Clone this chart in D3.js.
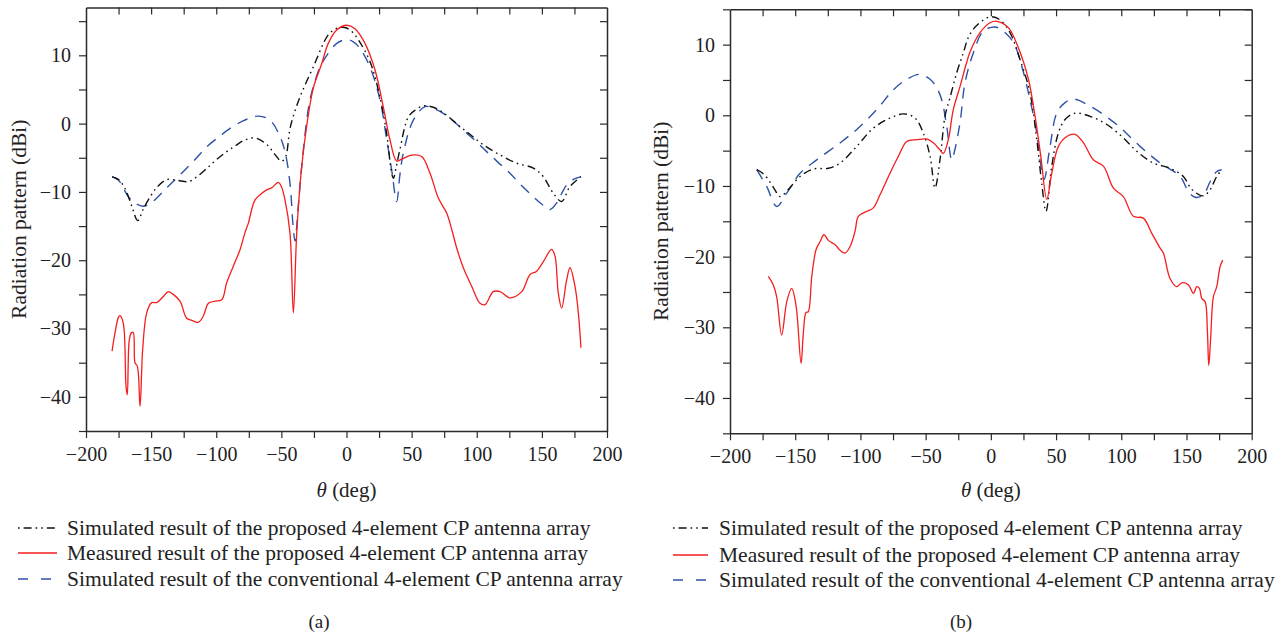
<!DOCTYPE html>
<html>
<head>
<meta charset="utf-8">
<script src="https://cdn.jsdelivr.net/npm/d3@7"></script>
<style>
  html, body { margin: 0; padding: 0; background: #fff; }
  svg { display: block; }
  text { font-family: "Liberation Serif", "DejaVu Serif", serif; fill: #222; }
</style>
</head>
<body>
<svg id="chart" width="1282" height="634"></svg>
<script>
// ---------------- DATA ----------------
const xTicks = [-200, -150, -100, -50, 0, 50, 100, 150, 200];
const yTicks = [-40, -30, -20, -10, 0, 10];
const legendLabels = [
  "Simulated result of the proposed 4-element CP antenna array",
  "Measured result of the proposed 4-element CP antenna array",
  "Simulated result of the conventional 4-element CP antenna array"
];
const panelLabels = ["(a)", "(b)"];
const xTitle = "(deg)";
const yTitle = "Radiation pattern (dBi)";

// Panel (a): [theta (deg), gain (dBi)]
const aSimProposed = [[-180,-7.8],[-175,-8.2],[-170,-9.5],[-165,-12],[-160.3,-14.2],[-156,-12.5],[-150,-10.5],[-145,-9.2],[-138,-8.2],[-130,-8.3],[-121.5,-8.5],[-115,-7.8],[-107,-6.5],[-100,-5.3],[-92,-4.1],[-85,-3.2],[-78,-2.4],[-70,-2.1],[-61,-3.1],[-55,-4.5],[-50,-5.5],[-47,-5.0],[-43,-0.4],[-35.7,3.9],[-25.5,8.3],[-14,13.0],[-8,13.9],[-3,14.1],[0,14.0],[5,13.3],[10,12],[18,9.1],[25.7,3.9],[30.8,-1.4],[34.7,-7.3],[36,-8.0],[38,-6.5],[41,-3.8],[47.5,1.0],[53,2.0],[59,2.6],[66.6,2.4],[75,1.5],[87,-0.4],[95,-1.6],[105,-3.1],[118,-4.6],[130.7,-5.8],[143.4,-6.5],[151,-7.75],[158.8,-10.2],[165.2,-11.4],[171.6,-9.2],[180,-7.8]];
const aMeasured = [[-180,-33.3],[-177.7,-30.6],[-175.2,-28.4],[-174,-28.1],[-171.4,-29.2],[-169.3,-38.4],[-168.3,-39.7],[-166.7,-31.6],[-165,-30.6],[-163.7,-30.6],[-162.4,-35.0],[-160.6,-35.5],[-158.5,-41.4],[-156.5,-33.1],[-153.4,-27.7],[-149.6,-26.2],[-145.7,-26.2],[-140.6,-25.3],[-136.8,-24.6],[-133,-25.0],[-127.8,-26.0],[-122.7,-28.5],[-118.8,-28.8],[-113.8,-29.1],[-110,-28.2],[-106,-26.3],[-101,-26.0],[-95.8,-25.8],[-92,-23.3],[-87,-20.9],[-81.8,-18.5],[-78,-16.0],[-75.4,-14.6],[-70.3,-11.2],[-65,-10.2],[-61.3,-9.7],[-57.4,-9.4],[-52.4,-8.6],[-50,-9.2],[-47.2,-11.2],[-43.4,-16.0],[-40.8,-27.7],[-38.2,-16],[-34.4,-6.3],[-30.6,-0.4],[-25.5,5.2],[-19,8.8],[-14,11.75],[-7.5,13.7],[0,14.4],[6.5,13.9],[14.2,11.75],[21.9,7.85],[28.2,2.5],[33.4,-2.4],[38.5,-5.45],[42.4,-5.2],[50,-4.6],[57.7,-4.8],[64.1,-7.25],[70.5,-10.9],[76.9,-13.1],[80.8,-15.5],[84.6,-18.2],[89.7,-21.1],[96.1,-23.8],[102.5,-26.3],[106.3,-26.5],[112.7,-24.6],[117.9,-24.6],[125.5,-25.5],[134.5,-24.6],[140.9,-22.1],[146,-21.6],[151.1,-20.2],[157.5,-18.4],[160.1,-19.4],[162.6,-24.8],[165.2,-27.0],[169,-22.9],[171.6,-21.1],[175.4,-23.8],[178,-27.7],[180,-32.8]];
const aSimConventional = [[-180,-7.75],[-175,-8.3],[-167.5,-10.7],[-161,-11.8],[-156,-12.1],[-150,-11.6],[-145.7,-10.9],[-137,-9.2],[-127.8,-7.5],[-117,-5.4],[-107.3,-3.4],[-97,-1.8],[-87,-0.4],[-77,0.6],[-67.7,1.1],[-58.7,0.5],[-51,-1.9],[-47,-4.3],[-43.4,-8.7],[-40.8,-15.5],[-39.5,-17.2],[-37,-12],[-34.4,-6.3],[-28,3.5],[-20.3,8.3],[-16.5,9.6],[-7.5,11.75],[0,12.3],[5,12],[10.4,11.0],[18,8.3],[25.7,3.5],[30.9,-2.4],[34.7,-6.8],[38.5,-11.4],[41,-7.5],[43.6,-4.3],[51.3,0.5],[60.3,2.5],[67,2.2],[74.3,1.5],[83,0.2],[92.3,-1.4],[100,-2.7],[107.6,-4.1],[116,-5.6],[125.5,-7.25],[134,-9],[143.4,-10.7],[150,-11.8],[156,-12.6],[161.4,-11.6],[165,-10.3],[169,-9.0],[175,-8.1],[180,-7.75]];

// Panel (b)
const bSimProposed = [[-179.5,-7.7],[-175,-8.2],[-170.6,-9.1],[-166,-10.4],[-161.7,-11.5],[-155.3,-10.5],[-146.3,-8.65],[-136.1,-7.6],[-124.6,-7.5],[-115.6,-6.75],[-102.8,-4.4],[-90,-1.8],[-77.3,-0.4],[-67,0.2],[-58.1,-0.4],[-51.8,-2.5],[-46.6,-5.8],[-42.8,-10.3],[-39,-6.3],[-35.1,-0.1],[-31.3,2.5],[-26.2,6.0],[-21.1,8.85],[-17.3,11.0],[-13.4,12.2],[-5.7,13.5],[0.6,13.95],[7,13.5],[14.7,11.7],[22.4,7.9],[30,3.2],[35.2,-3.4],[39,-9.6],[42.3,-13.6],[46.7,-7.2],[51.8,-2.5],[56.9,-0.6],[64.6,0.3],[76,-0.14],[88.9,-1.3],[101.6,-3.2],[111.9,-5.1],[124.6,-6.75],[137.4,-7.5],[147.6,-8.65],[154.1,-10.5],[163,-11.4],[168.1,-10.5],[173.2,-8.65],[177,-7.7]];
const bMeasured = [[-170.6,-22.8],[-166.8,-24.0],[-164.2,-25.7],[-160.4,-31.1],[-156.5,-26.4],[-152.7,-24.5],[-149.4,-26.9],[-145.5,-35.1],[-143.8,-30.9],[-141.7,-27.9],[-140,-27.8],[-137.3,-22.8],[-134,-19.0],[-131,-17.9],[-127.9,-16.9],[-124.6,-17.7],[-119.5,-18.3],[-115.6,-19.1],[-111.8,-19.5],[-108,-18.6],[-104.1,-16.4],[-101.6,-14.3],[-95.2,-13.6],[-90.1,-13.1],[-85,-11.25],[-77.3,-8.2],[-70.9,-5.8],[-64.5,-3.7],[-56.8,-3.45],[-49.2,-3.35],[-44.1,-3.9],[-39,-4.9],[-36.4,-5.4],[-32.6,-3.45],[-28.8,0.8],[-23.6,4.1],[-18.5,7.5],[-15.9,9.0],[-8.3,11.7],[-0.6,13.1],[4.5,13.3],[13.4,12.4],[21.1,9.55],[28.8,5.1],[33.9,-0.14],[38.3,-5.8],[42.9,-11.9],[46.7,-8.2],[51.8,-4.4],[58.2,-3.0],[64.6,-2.7],[71,-3.9],[78.6,-6.3],[86.3,-7.2],[94,-10.3],[101.6,-11.5],[109.3,-14.3],[116.9,-14.55],[123.4,-16.7],[129.8,-18.8],[132.3,-19.5],[137.4,-23.1],[142.5,-24.25],[146.4,-23.7],[151.5,-24.0],[155.3,-25.2],[157.9,-24.25],[159.9,-24.5],[161.7,-25.9],[164.3,-26.4],[166,-30.4],[167.1,-35.4],[168.6,-31.3],[170.6,-25.7],[173.2,-24.25],[175.8,-21.4],[177.8,-20.5]];
const bSimConventional = [[-179.5,-7.7],[-171.8,-10.1],[-164.2,-12.9],[-156.5,-11.0],[-146.3,-8.2],[-133.5,-6.3],[-115.6,-3.9],[-102.8,-2.0],[-87.5,0.8],[-74.8,3.6],[-64.5,5.1],[-54.3,5.8],[-46.6,5.1],[-41.5,3.9],[-37.7,2.2],[-33.8,-1.6],[-30,-6.3],[-27.5,-4.8],[-23.6,-1.0],[-19.8,4.6],[-13.4,8.85],[-5.8,11.9],[3.2,12.5],[9.6,11.9],[17.3,10.3],[23.7,6.95],[30,2.2],[35.2,-2.5],[37.7,-6.3],[40.8,-9.1],[45.4,-4.4],[50.5,0.3],[56.9,1.8],[63.3,2.3],[76,1.3],[96.5,-1.3],[114.4,-4.4],[129.8,-6.75],[145.1,-8.65],[151.5,-10.8],[156.6,-11.6],[163,-11.25],[168.1,-9.4],[173.2,-7.95],[177,-7.7]];

// ---------------- DRAW ----------------
const svg = d3.select("#chart");
const colors = { black: "#111111", red: "#f51e1e", blue: "#2f52a8" };
const styles = [
  { color: colors.black, dash: "8,4,1.6,4,1.6,4", width: 1.4 },
  { color: colors.red, dash: null, width: 1.3 },
  { color: colors.blue, dash: "11,8", width: 1.4 }
];

const panels = [
  { box: { l: 86, r: 607, t: 7.5, b: 431 }, yDom: [-45, 17],
    series: [aSimProposed, aMeasured, aSimConventional],
    yTitleX: 19, legend: { x0: 18, x1: 57, tx: 67, ys: [528, 553, 579] }, labelX: 319 },
  { box: { l: 730, r: 1251.7, t: 9.3, b: 433.3 }, yDom: [-45, 15],
    series: [bSimProposed, bMeasured, bSimConventional],
    yTitleX: 661, legend: { x0: 673, x1: 708, tx: 719, ys: [528, 555, 580] }, labelX: 961 }
];

const minorX = d3.range(-200, 201, 25);
const minorY = d3.range(-45, 16, 5);

panels.forEach((p, pi) => {
  const B = p.box;
  const x = d3.scaleLinear().domain([-200, 200]).range([B.l, B.r]);
  const y = d3.scaleLinear().domain(p.yDom).range([B.b, B.t]);
  const g = svg.append("g");
  const fmt = d => (xTicks.includes(d) ? d3.format("")(d) : "");
  const fmtY = d => (yTicks.includes(d) ? d3.format("")(d) : "");

  const styleAxis = sel => {
    sel.selectAll("path.domain").attr("stroke", "#2a2a2a").attr("stroke-width", 1.5);
    sel.selectAll(".tick line").attr("stroke", "#2a2a2a").attr("stroke-width", 1.2);
    sel.selectAll(".tick text").style("font-family", '"Liberation Serif", serif')
      .style("font-size", "20px").attr("fill", "#222");
  };

  g.append("g").attr("transform", `translate(0,${B.b})`)
    .call(d3.axisBottom(x).tickValues(minorX).tickFormat(fmt).tickSize(7).tickSizeOuter(0).tickPadding(9))
    .call(styleAxis);
  g.append("g").attr("transform", `translate(0,${B.t})`)
    .call(d3.axisTop(x).tickValues(minorX.filter(v => v > -200 && v < 200)).tickFormat("").tickSize(-7).tickSizeOuter(0))
    .call(styleAxis);
  const yVals = minorY.filter(v => v >= p.yDom[0] && v <= p.yDom[1]);
  g.append("g").attr("transform", `translate(${B.l},0)`)
    .call(d3.axisLeft(y).tickValues(yVals).tickFormat(fmtY).tickSize(7).tickSizeOuter(0).tickPadding(8))
    .call(styleAxis);
  g.append("g").attr("transform", `translate(${B.r},0)`)
    .call(d3.axisRight(y).tickValues(yVals.filter(v => v > p.yDom[0])).tickFormat("").tickSize(-7).tickSizeOuter(0))
    .call(styleAxis);

  const line = d3.line().x(d => x(d[0])).y(d => y(d[1])).curve(d3.curveCatmullRom.alpha(0.5));
  [2, 0, 1].forEach(si => {
    const s = styles[si];
    g.append("path").datum(p.series[si])
      .attr("d", line)
      .attr("fill", "none")
      .attr("stroke", s.color)
      .attr("stroke-width", s.width)
      .attr("stroke-dasharray", s.dash);
  });

  const xt = g.append("text").attr("x", (B.l + B.r) / 2).attr("y", 497)
    .attr("text-anchor", "middle").style("font-size", "21px");
  xt.append("tspan").style("font-style", "italic").text("θ");
  xt.append("tspan").text(" " + xTitle);
  g.append("text")
    .attr("transform", `translate(${p.yTitleX + 7},${(B.t + B.b) / 2}) rotate(-90)`)
    .attr("text-anchor", "middle").style("font-size", "21.5px").text(yTitle);

  const L = p.legend;
  legendLabels.forEach((lab, i) => {
    const s = styles[i];
    g.append("line").attr("x1", L.x0).attr("x2", L.x1).attr("y1", L.ys[i]).attr("y2", L.ys[i])
      .attr("stroke", s.color).attr("stroke-width", s.width)
      .attr("stroke-dasharray", i === 0 ? "1.6,4,8,4,1.6,4" : (i === 2 ? "10,13" : null));
    g.append("text").attr("x", L.tx).attr("y", L.ys[i] + 6.5)
      .style("font-size", "21.5px").text(lab);
  });

  g.append("text").attr("x", p.labelX).attr("y", 628).attr("text-anchor", "middle")
    .style("font-size", "19px").text(panelLabels[pi]);
});
</script>
</body>
</html>
